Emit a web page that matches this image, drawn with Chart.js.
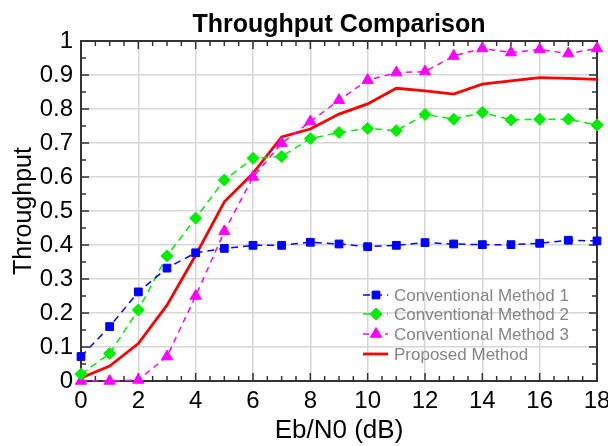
<!DOCTYPE html>
<html lang="en">
<head>
    <meta charset="UTF-8">
    <title>Throughput Comparison</title>
    <style>
        body { margin: 0; background: #fff; }
    </style>
</head>
<body>
<canvas id="myChart" width="608" height="446"></canvas>

<script src="https://cdn.jsdelivr.net/npm/chart.js"></script>
<script>
    // data
    var snrValues = [0, 1, 2, 3, 4, 5, 6, 7, 8, 9, 10, 11, 12, 13, 14, 15, 16, 17, 18];
    var method1 = [0.072, 0.16, 0.262, 0.332, 0.377, 0.39, 0.399, 0.399, 0.408, 0.403, 0.395, 0.399, 0.407, 0.403, 0.401, 0.401, 0.405, 0.414, 0.412];
    var method2 = [0.02, 0.081, 0.209, 0.368, 0.479, 0.591, 0.655, 0.66, 0.713, 0.731, 0.743, 0.736, 0.784, 0.77, 0.79, 0.768, 0.77, 0.77, 0.753];
    var method3 = [0.0, 0.0, 0.003, 0.072, 0.25, 0.44, 0.60, 0.699, 0.763, 0.826, 0.885, 0.907, 0.91, 0.956, 0.978, 0.966, 0.975, 0.963, 0.978];
    var proposed = [0.009, 0.044, 0.11, 0.223, 0.37, 0.527, 0.611, 0.718, 0.741, 0.785, 0.815, 0.861, 0.853, 0.844, 0.873, 0.883, 0.892, 0.89, 0.887];
    var seriesNames = ['Conventional Method 1', 'Conventional Method 2', 'Conventional Method 3', 'Proposed Method'];

    var fontFamily = '"Liberation Sans", Arial, sans-serif';

    function toPoints(ys) {
        return snrValues.map(function(x, i) { return { x: x, y: ys[i] }; });
    }

    // frame, inward ticks, title, axis titles and legend
    var decorPlugin = {
        id: 'decor',
        beforeDatasetsDraw: function(chart) {
            var ctx = chart.ctx;
            var a = chart.chartArea;
            var xs = chart.scales.x, ys = chart.scales.y;
            ctx.save();
            ctx.strokeStyle = '#333';
            ctx.lineWidth = 1.5;
            var v, px, len;
            for (v = 0; v <= 18.001; v += 0.5) {
                px = xs.getPixelForValue(v);
                len = (Math.abs(v / 2 - Math.round(v / 2)) < 0.01) ? 8 : 5;
                ctx.beginPath();
                ctx.moveTo(px, a.bottom); ctx.lineTo(px, a.bottom - len);
                ctx.moveTo(px, a.top); ctx.lineTo(px, a.top + len);
                ctx.stroke();
            }
            for (v = 0; v <= 1.0001; v += 0.05) {
                px = ys.getPixelForValue(v);
                len = (Math.abs(v * 10 - Math.round(v * 10)) < 0.01) ? 8 : 5;
                ctx.beginPath();
                ctx.moveTo(a.left, px); ctx.lineTo(a.left + len, px);
                ctx.moveTo(a.right, px); ctx.lineTo(a.right - len, px);
                ctx.stroke();
            }
            ctx.lineWidth = 2;
            ctx.strokeRect(a.left, a.top, a.right - a.left, a.bottom - a.top);
            ctx.restore();
        },
        afterDraw: function(chart) {
            var ctx = chart.ctx;
            var a = chart.chartArea;
            var cx = (a.left + a.right) / 2;
            ctx.save();
            ctx.fillStyle = '#000';
            ctx.textAlign = 'center';
            ctx.textBaseline = 'alphabetic';
            ctx.font = 'bold 25px ' + fontFamily;
            ctx.fillText('Throughput Comparison', cx, 32);
            ctx.font = '26px ' + fontFamily;
            ctx.fillText('Eb/N0 (dB)', cx, 438);
            ctx.font = '25px ' + fontFamily;
            ctx.translate(31, (a.top + a.bottom) / 2);
            ctx.rotate(-Math.PI / 2);
            ctx.fillText('Throughput', 0, 0);
            ctx.restore();

            // legend inside the plot
            ctx.save();
            var rows = [295, 314, 334, 354];
            chart.data.datasets.forEach(function(ds, i) {
                var y = rows[i];
                ctx.strokeStyle = ds.borderColor;
                ctx.lineWidth = ds.borderWidth;
                ctx.setLineDash(ds.borderDash || []);
                ctx.beginPath();
                ctx.moveTo(363, y); ctx.lineTo(388, y);
                ctx.stroke();
                ctx.setLineDash([]);
                if (ds.pointRadius > 0) {
                    ctx.fillStyle = ds.pointBackgroundColor;
                    ctx.strokeStyle = ds.pointBorderColor;
                    ctx.lineWidth = 1;
                    Chart.helpers.drawPoint(ctx, { pointStyle: ds.pointStyle, radius: ds.pointRadius, borderWidth: 1 }, 376, y);
                }
                ctx.fillStyle = '#858585';
                ctx.font = '17px ' + fontFamily;
                ctx.textAlign = 'left';
                ctx.textBaseline = 'middle';
                ctx.fillText(seriesNames[i], 394, y + 1);
            });
            ctx.restore();
        }
    };

    var ctx = document.getElementById('myChart').getContext('2d');
    var myChart = new Chart(ctx, {
        type: 'line',
        data: {
            datasets: [{
                label: seriesNames[0],
                data: toPoints(method1),
                borderColor: '#0000ff',
                backgroundColor: '#0000ff',
                pointBackgroundColor: '#0000ff',
                pointBorderColor: '#0000ff',
                borderWidth: 1.5,
                borderDash: [7, 5],
                pointStyle: 'rect',
                pointRadius: 5.5,
                pointBorderWidth: 1
            }, {
                label: seriesNames[1],
                data: toPoints(method2),
                borderColor: '#00ee00',
                backgroundColor: '#00ee00',
                pointBackgroundColor: '#00ee00',
                pointBorderColor: '#00ee00',
                borderWidth: 1.5,
                borderDash: [7, 5],
                pointStyle: 'rectRot',
                pointRadius: 6,
                pointBorderWidth: 1
            }, {
                label: seriesNames[2],
                data: toPoints(method3),
                borderColor: '#ff00ff',
                backgroundColor: '#ff00ff',
                pointBackgroundColor: '#ff00ff',
                pointBorderColor: '#ff00ff',
                borderWidth: 1.5,
                borderDash: [6, 5],
                pointStyle: 'triangle',
                pointRadius: 6.5,
                pointBorderWidth: 1
            }, {
                label: seriesNames[3],
                data: toPoints(proposed),
                borderColor: '#ff0000',
                backgroundColor: '#ff0000',
                borderWidth: 2.8,
                pointRadius: 0
            }]
        },
        options: {
            responsive: false,
            animation: false,
            clip: false,
            layout: { padding: { top: 41, right: 11, left: 0, bottom: 0 } },
            plugins: {
                legend: { display: false },
                title: { display: false },
                tooltip: { enabled: false }
            },
            elements: { line: { tension: 0 } },
            scales: {
                x: {
                    type: 'linear',
                    min: 0,
                    max: 18,
                    afterFit: function(scale) {
                        scale.height = 65;
                        scale.paddingLeft = 0;
                        scale.paddingRight = 0;
                    },
                    ticks: {
                        stepSize: 2,
                        padding: 6,
                        maxRotation: 0,
                        color: '#000',
                        font: { family: fontFamily, size: 24 }
                    },
                    grid: { color: '#d6d6d6', lineWidth: 1.5, drawTicks: false },
                    border: { display: false }
                },
                y: {
                    min: 0,
                    max: 1,
                    afterFit: function(scale) {
                        scale.width = 81;
                        scale.paddingTop = 0;
                        scale.paddingBottom = 0;
                    },
                    ticks: {
                        stepSize: 0.1,
                        padding: 8,
                        color: '#000',
                        font: { family: fontFamily, size: 24 },
                        callback: function(v) { return Math.round(v * 10) / 10; }
                    },
                    grid: { color: '#d6d6d6', lineWidth: 1.5, drawTicks: false },
                    border: { display: false }
                }
            }
        },
        plugins: [decorPlugin]
    });
</script>
</body>
</html>
